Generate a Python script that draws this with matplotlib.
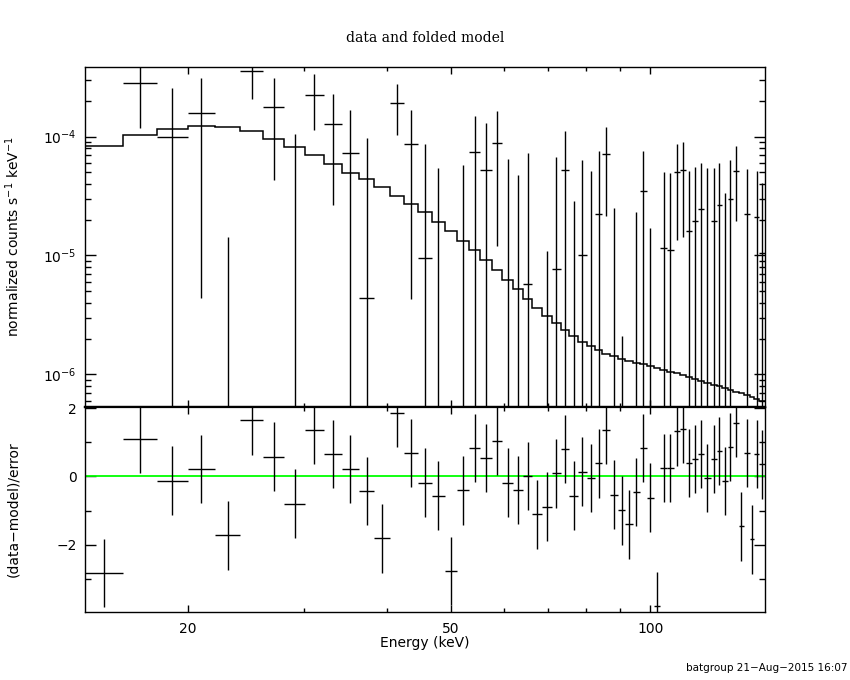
import numpy as np
import matplotlib.pyplot as plt
from matplotlib.ticker import FixedLocator, NullFormatter, FixedFormatter

# channel edges (keV)
edges = [14.0, 16.0, 18.0, 20.0, 22.0, 24.0, 26.0, 28.0, 30.1, 32.1, 34.2, 36.3,
         38.3, 40.4, 42.5, 44.6, 46.75, 48.9, 51.1, 53.2, 55.35, 57.6, 59.75, 62.0,
         64.2, 66.3, 68.65, 71.0, 73.25, 75.45, 77.7, 80.1, 82.35, 84.6, 87.0, 89.3,
         91.65, 94.05, 96.4, 98.8, 101.2, 103.5, 105.9, 108.4, 110.85, 113.3, 115.7,
         118.15, 120.65, 123.2, 125.8, 128.3, 130.75, 133.25, 135.85, 138.5, 141.1,
         143.45, 146.05, 148.9]

# normalized counts s^-1 keV^-1
rate = [-4.24e-4, 2.816e-4, 9.88e-5, 1.574e-4, -1.33e-4, 3.573e-4, 1.768e-4, -4.1e-6,
        2.244e-4, 1.28e-4, 7.25e-5, 4.36e-6, -1.219e-4, 1.91e-4, 8.63e-5, 9.47e-6,
        -1.77e-5, -1.74e-4, -1.3e-5, 7.43e-5, 5.25e-5, 8.85e-5, -3.0e-6, -1.8e-5,
        5.72e-6, -6.7e-5, -4.8e-5, 7.66e-6, 5.25e-5, -3.19e-5, 1.004e-5, -2.7e-7,
        2.22e-5, 7.12e-5, -2.54e-5, -4.79e-5, -6.87e-5, -1.74e-5, 3.47e-5, -2.47e-5,
        -1.58e-4, 1.151e-5, 1.107e-5, 5.02e-5, 5.25e-5, 1.6e-5, 1.952e-5, 2.46e-5,
        -1.4e-6, 1.952e-5, 2.646e-5, -4.5e-6, 3.01e-5, 5.14e-5, -4.74e-5, 2.22e-5,
        -5.63e-5, 2.11e-5, 1.057e-5]
err = [1.8e-4, 1.625e-4, 1.567e-4, 1.53e-4, 1.473e-4, 1.5e-4, 1.34e-4, 1.095e-4,
       1.115e-4, 1.015e-4, 9.53e-5, 9.25e-5, 8.5e-5, 8.7e-5, 8.2e-5, 7.73e-5,
       7.25e-5, 7.0e-5, 7.08e-5, 7.5e-5, 7.86e-5, 7.65e-5, 6.75e-5, 6.56e-5,
       6.72e-5, 6.5e-5, 5.9e-5, 5.98e-5, 5.9e-5, 6.07e-5, 5.4e-5, 5.17e-5,
       5.4e-5, 4.97e-5, 5.06e-5, 5.0e-5, 5.0e-5, 4.06e-5, 4.15e-5, 4.17e-5,
       4.2e-5, 3.89e-5, 3.84e-5, 3.66e-5, 3.83e-5, 3.54e-5, 3.6e-5, 3.54e-5,
       5.62e-5, 3.53e-5, 3.35e-5, 3.81e-5, 3.36e-5, 3.2e-5, 3.3e-5, 3.13e-5,
       3.1e-5, 3.03e-5, 3.02e-5]
model = [8.35e-5, 1.027e-4, 1.154e-4, 1.23e-4, 1.2e-4, 1.116e-4, 9.51e-5, 8.24e-5,
         7.02e-5, 5.86e-5, 4.98e-5, 4.38e-5, 3.75e-5, 3.19e-5, 2.73e-5, 2.31e-5,
         1.904e-5, 1.6e-5, 1.325e-5, 1.107e-5, 9.12e-6, 7.59e-6, 6.25e-6, 5.19e-6,
         4.33e-6, 3.64e-6, 3.1e-6, 2.69e-6, 2.34e-6, 2.09e-6, 1.87e-6, 1.73e-6,
         1.6e-6, 1.48e-6, 1.42e-6, 1.35e-6, 1.29e-6, 1.24e-6, 1.21e-6, 1.175e-6,
         1.13e-6, 1.09e-6, 1.05e-6, 1.02e-6, 9.8e-7, 9.5e-7, 9.1e-7, 8.8e-7,
         8.5e-7, 8.2e-7, 7.97e-7, 7.66e-7, 7.37e-7, 7.14e-7, 6.91e-7, 6.69e-7,
         6.48e-7, 6.23e-7, 6.0e-7]
# (data-model)/error
resid = [-2.82, 1.09, -0.12, 0.22, -1.72, 1.64, 0.58, -0.79, 1.35, 0.66,
         0.22, -0.43, -1.81, 1.85, 0.69, -0.18, -0.56, -2.76, -0.41, 0.83,
         0.54, 1.03, -0.18, -0.39, 0.02, -1.11, -0.88, 0.09, 0.80, -0.56,
         0.14, -0.04, 0.38, 1.35, -0.53, -0.99, -1.40, -0.46, 0.83, -0.62,
         -3.78, 0.25, 0.25, 1.32, 1.38, 0.40, 0.51, 0.66, -0.04, 0.51,
         0.74, -0.14, 0.86, 1.56, -1.46, 0.69, -1.84, 0.66, 0.35]

edges = np.array(edges)
rate = np.array(rate)
err = np.array(err)
resid = np.array(resid)
lo = edges[:-1]
hi = edges[1:]
cen = np.sqrt(lo * hi)

fig = plt.figure(figsize=(8.5, 6.8), dpi=100)
ax1 = fig.add_axes([0.1, 0.4015, 0.8, 0.5])
ax2 = fig.add_axes([0.1, 0.1, 0.8, 0.3015], sharex=ax1)

# top panel: data and folded model
top = rate + err
bot = rate - err
vis = top > 0
ax1.vlines(cen[vis], np.clip(bot[vis], 1e-9, None), top[vis], color='black', lw=1)
pos = rate > 0
ax1.hlines(rate[pos], lo[pos], hi[pos], color='black', lw=1)
ax1.stairs(model, edges, baseline=None, color='black', lw=1.1)

ax1.set_xscale('log')
ax1.set_yscale('log')
ax1.set_xlim(14.0, 148.9)
ax1.set_ylim(5.31e-7, 3.86e-4)

# bottom panel: residuals
ax2.axhline(0, color='#00ff00', lw=1.3)
ax2.hlines(resid, lo, hi, color='black', lw=1)
ax2.vlines(cen, resid - 1, resid + 1, color='black', lw=1)
ax2.set_ylim(-3.96, 2.03)

for ax in (ax1, ax2):
    ax.xaxis.set_major_locator(FixedLocator([20, 50, 100]))
    ax.xaxis.set_minor_locator(FixedLocator([30, 40, 60, 70, 80, 90]))
    ax.tick_params(which='both', direction='in', top=True, right=True,
                   labelsize=10, width=1)
    ax.tick_params(axis='x', which='major', length=5, pad=7)
    ax.tick_params(axis='x', which='minor', length=3)
    ax.tick_params(axis='y', which='major', length=8, pad=6)
    ax.tick_params(axis='y', which='minor', length=4)
    for s in ax.spines.values():
        s.set_linewidth(1)

ax1.spines['bottom'].set_linewidth(1.6)
ax2.spines['top'].set_linewidth(1.6)
ax1.tick_params(axis='x', which='both', labelbottom=False)
ax2.xaxis.set_major_formatter(FixedFormatter(['20', '50', '100']))
ax2.xaxis.set_minor_formatter(NullFormatter())
ax2.set_yticks([-2, 0, 2])
ax2.set_yticks([-3, -1, 1], minor=True)

ax1.set_ylabel('normalized counts s$^{-1}$ keV$^{-1}$', fontsize=10, va='center')
ax2.set_ylabel('(data\u2212model)/error', fontsize=10, va='center')
ax1.yaxis.set_label_coords(-0.106, 0.5)
ax2.yaxis.set_label_coords(-0.106, 0.5)

fig.text(0.5, 0.944, 'data and folded model', ha='center', va='center',
         family='DejaVu Serif', fontsize=10)
fig.text(0.5, 0.054, 'Energy (keV)', ha='center', va='center', fontsize=10)
fig.text(0.997, 0.017, 'batgroup 21\u2212Aug\u22122015 16:07', ha='right',
         va='center', fontsize=7.5)

fig.savefig('out.png', dpi=100)
